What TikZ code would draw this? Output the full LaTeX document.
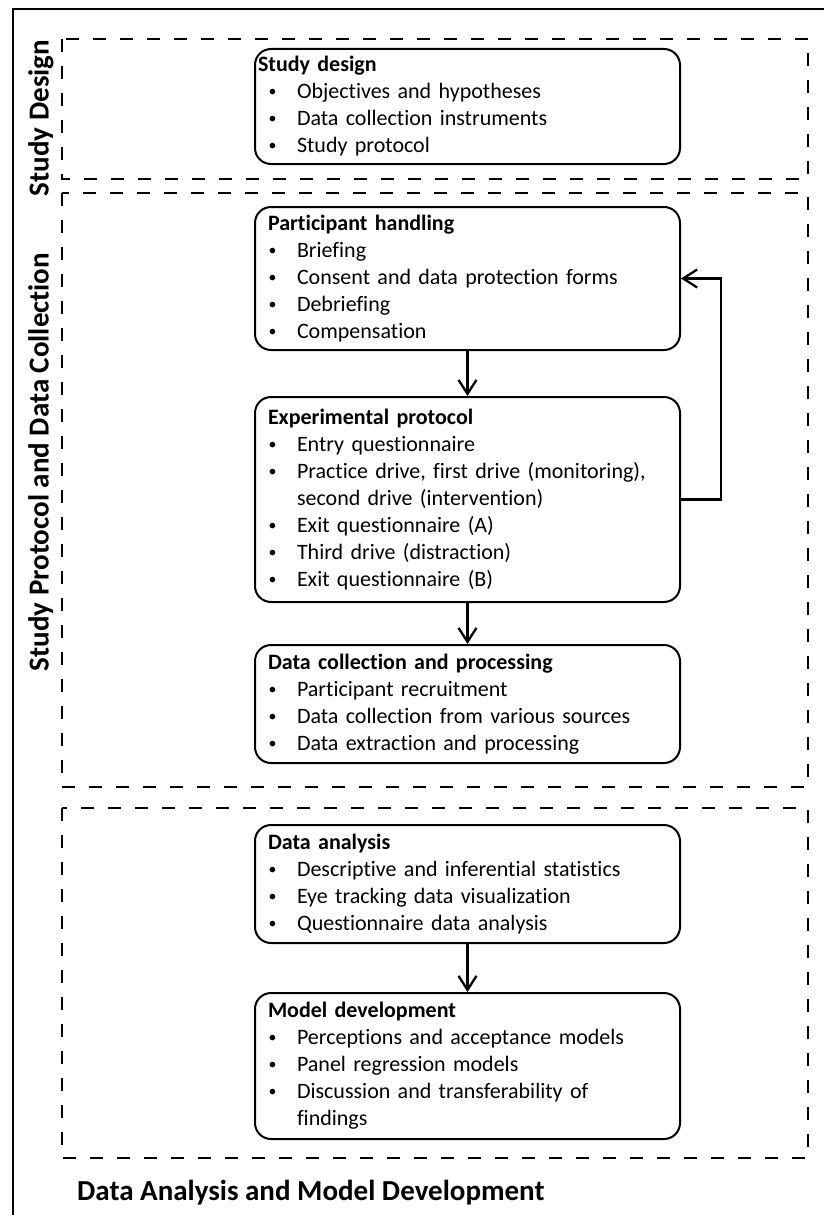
\documentclass[tikz,border=0pt]{standalone}
\usepackage{fontspec}
\usepackage{graphicx}
\setmainfont{Carlito}[Ligatures=NoCommon]
\usetikzlibrary{arrows.meta}

% small list bullet and one bullet line with a hanging indent
\newcommand\smallbullet{\raisebox{0.09em}{\scalebox{0.72}{\textbullet}}}
\newcommand\bitem[1]{\par\hangindent=29pt\hangafter=1\noindent\makebox[29pt][l]{\hspace{0.5pt}\smallbullet}#1}

\tikzset{
  stage/.style={draw, line width=2pt, rounded corners=16pt, text width=399pt,
    inner xsep=13pt, inner ysep=0pt, align=left,
    font=\fontsize{22}{27}\selectfont},
  zone/.style={draw, line width=1.3pt, dash pattern=on 13pt off 14pt},
  frame/.style={draw, line width=1.3pt},
  flow/.style={line width=2.3pt, -{Straight Barb[length=14pt,width=18pt]}},
  lane/.style={font=\fontsize{29}{34}\selectfont\bfseries, inner sep=0pt}
}

\begin{document}
\begin{tikzpicture}[x=1pt,y=-1pt]
\useasboundingbox (0,0) rectangle (824,1215);

% outer frame (left and top edges)
\draw[frame] (13,1216) -- (13,9) -- (825,9);

% phase zones
\draw[zone] (62,39) rectangle (808,179);
\draw[zone] (62,193) rectangle (808,787);
\draw[zone] (62,808) rectangle (808,1158);

% phase labels
\node[lane, rotate=90, anchor=base] (labdesign) at (48.5,118) {Study Design};
\node[lane, rotate=90, anchor=base] (labprotocol) at (48.5,462) {Study Protocol and Data Collection};
\node[lane, anchor=base west] (labanalysis) at (77,1200) {Data Analysis and Model Development};

% stages
\node[stage, minimum height=115pt] (sd) at (467.5,106.5) {%
  \hspace{-10pt}\textbf{Study design}
  \bitem{Objectives and hypotheses}
  \bitem{Data collection instruments}
  \bitem{Study protocol}\par};

\node[stage, minimum height=143pt] (ph) at (467.5,278.5) {%
  \textbf{Participant handling}
  \bitem{Briefing}
  \bitem{Consent and data protection forms}
  \bitem{Debriefing}
  \bitem{Compensation}\par};

\node[stage, minimum height=205pt] (ep) at (467.5,499.5) {%
  \textbf{Experimental protocol}
  \bitem{Entry questionnaire}
  \bitem{Practice drive, first drive (monitoring),\newline second drive (intervention)}
  \bitem{Exit questionnaire (A)}
  \bitem{Third drive (distraction)}
  \bitem{Exit questionnaire (B)}\par};

\node[stage, minimum height=118pt] (dc) at (467.5,704) {%
  \textbf{Data collection and processing}
  \bitem{Participant recruitment}
  \bitem{Data collection from various sources}
  \bitem{Data extraction and processing}\par};

\node[stage, minimum height=118pt] (da) at (467.5,884) {%
  \textbf{Data analysis}
  \bitem{Descriptive and inferential statistics}
  \bitem{Eye tracking data visualization}
  \bitem{Questionnaire data analysis}\par};

\node[stage, minimum height=146pt] (md) at (467.5,1066) {%
  \textbf{Model development}
  \bitem{Perceptions and acceptance models}
  \bitem{Panel regression models}
  \bitem{Discussion and transferability of\newline findings}\par};

% connectors
\draw[flow] (ph.south) -- (ep.north);
\draw[flow] (ep.south) -- (dc.north);
\draw[flow] (da.south) -- (md.north);
\draw[flow] (ep.east) -- ++(40,0) |- (ph.east);
\end{tikzpicture}
\end{document}
